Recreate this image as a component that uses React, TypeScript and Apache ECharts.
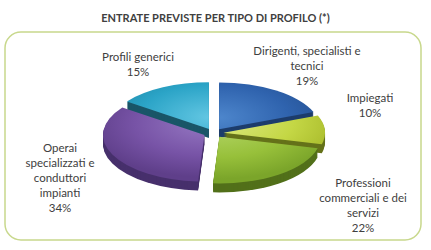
import React, { useEffect, useRef } from "react";
import * as echarts from "echarts";

const categories = [
  "Dirigenti, specialisti e\ntecnici",
  "Impiegati",
  "Professioni\ncommerciali e dei\nservizi",
  "Operai\nspecializzati e\nconduttori\nimpianti",
  "Profili generici",
];
const values = [19, 10, 22, 34, 15];
const title = "ENTRATE PREVISTE PER TIPO DI PROFILO (*)";

// styling / layout (not data)
const topColors = [
  ["#4d86cc", "#2f63ae", "#244f8f"],
  ["#dbe97f", "#c4d745", "#a9bb2c"],
  ["#b3d566", "#97c03a", "#7ba52a"],
  ["#9577c2", "#7753a6", "#5f3f8a"],
  ["#62c6e2", "#2ba4c7", "#1f87a6"],
];
const sideColors = ["#1d3d6c", "#65721a", "#52701a", "#47306c", "#1a5668"];
const labelPos = [
  [307, 43],
  [370, 90],
  [363, 175],
  [60, 140],
  [138, 49],
];

const CX = 213.5;
const CY = 133;
const R = 101.5;
const K = 0.46;
const EXPLODE = 10;
const DEPTH = 9;
const FONT = '11.5px Lato, "Open Sans", sans-serif';

const total = values.reduce((a, b) => a + b, 0);
const starts: number[] = [];
values.reduce((acc, v) => {
  starts.push(acc);
  return acc + v;
}, 0);

function angles(i: number, v: number) {
  const a0 = -Math.PI / 2 + (2 * Math.PI * starts[i]) / total;
  const a1 = a0 + (2 * Math.PI * v) / total;
  const mid = (a0 + a1) / 2;
  return { a0, a1, dx: EXPLODE * Math.cos(mid), dy: EXPLODE * Math.sin(mid) };
}

export default function App() {
  const ref = useRef<HTMLDivElement>(null);
  useEffect(() => {
    if (!ref.current) return;
    const chart = echarts.init(ref.current, null, { renderer: "svg" });
    const data = values.map((v) => [v]);
    chart.setOption({
      animation: false,
      backgroundColor: "#ffffff",
      title: {
        text: title,
        left: "center",
        top: 7,
        textStyle: {
          fontFamily: 'Lato, "Open Sans", sans-serif',
          fontSize: 11,
          fontWeight: "bold",
          color: "#404040",
        },
      },
      graphic: [
        {
          type: "rect",
          shape: { x: 5, y: 32, width: 416, height: 208, r: 16 },
          style: { fill: "none", stroke: "#c8d88c", lineWidth: 1.5 },
          z: 0,
        },
        ...categories.map((c, i) => ({
          type: "text",
          x: labelPos[i][0],
          y: labelPos[i][1],
          z: 10,
          style: {
            text: c + "\n" + values[i] + "%",
            textAlign: "center",
            textVerticalAlign: "top",
            font: FONT,
            lineHeight: 15,
            fill: "#404040",
          },
        })),
      ],
      series: [
        {
          type: "custom",
          coordinateSystem: "none",
          z: 1,
          data,
          renderItem: (params: any, api: any) => {
            const i = params.dataIndex;
            const { a0, a1, dx, dy } = angles(i, api.value(0));
            const children = [];
            for (let d = DEPTH; d >= 1; d--) {
              children.push({
                type: "sector",
                shape: { cx: dx, cy: dy + d / K, r: R, r0: 0, startAngle: a0, endAngle: a1, clockwise: true },
                style: { fill: sideColors[i] },
              });
            }
            return { type: "group", x: CX, y: CY, scaleY: K, children };
          },
        },
        {
          type: "custom",
          coordinateSystem: "none",
          z: 2,
          data,
          renderItem: (params: any, api: any) => {
            const i = params.dataIndex;
            const { a0, a1, dx, dy } = angles(i, api.value(0));
            const [l, b, e] = topColors[i];
            const fill = new echarts.graphic.RadialGradient(
              dx,
              dy - R * 0.25,
              R * 1.15,
              [
                { offset: 0, color: l },
                { offset: 0.6, color: b },
                { offset: 1, color: e },
              ],
              true
            );
            return {
              type: "group",
              x: CX,
              y: CY,
              scaleY: K,
              children: [
                {
                  type: "sector",
                  shape: { cx: dx, cy: dy, r: R, r0: 0, startAngle: a0, endAngle: a1, clockwise: true },
                  style: { fill },
                },
              ],
            };
          },
        },
      ],
    });
    return () => chart.dispose();
  }, []);
  return (
    <div
      ref={ref}
      style={{ position: "absolute", left: 0, top: 0, width: 431, height: 250 }}
    />
  );
}
